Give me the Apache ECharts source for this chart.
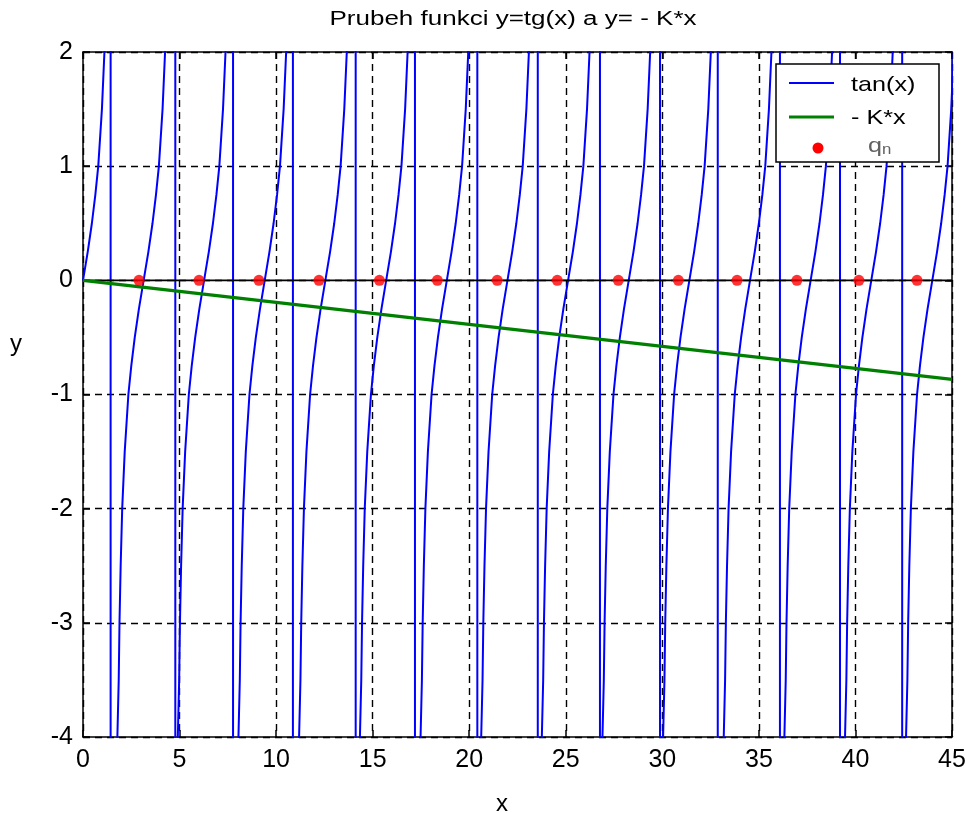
<!DOCTYPE html>
<html>
<head>
<meta charset="utf-8">
<script src="https://cdn.jsdelivr.net/npm/echarts@6/dist/echarts.min.js"></script>
<style>
  html, body { margin: 0; padding: 0; background: #fff; }
  #chart { width: 965px; height: 813px; }
</style>
</head>
<body>
<div id="chart"></div>
<script>
// Axis ranges: [min, max, step]
const xRange = [0, 45, 5];
const yRange = [-4, 2, 1];

// x where each tan(x) branch crosses zero
const tanZeroX = [0, 3.14, 6.27, 9.41, 12.55, 15.70, 18.84, 21.98, 25.12, 28.26, 31.40, 34.54, 37.68, 40.82, 43.98];

// shape of one branch: y levels and x offset from its zero crossing
const branchY  = [-4.6, -4.0, -3.5, -3.0, -2.5, -2.0, -1.5, -1.0, -0.75, -0.5, -0.25, 0, 0.25, 0.5, 0.75, 1.0, 1.5, 2.0, 2.6];
const branchDX = [-1.39, -1.36, -1.29, -1.25, -1.19, -1.11, -0.98, -0.79, -0.64, -0.46, -0.245, 0, 0.245, 0.46, 0.64, 0.79, 0.98, 1.11, 1.20];

// x of the near-vertical jumps between neighbouring branches
const jumpX = [1.43, 4.78, 7.77, 10.87, 14.12, 17.19, 20.42, 23.55, 26.77, 29.88, 32.87, 36.09, 39.20, 42.42];

// straight line y = -K*x, end points
const kLineX = [0, 45];
const kLineY = [0, -0.867];

// roots q_n marked on the x axis
const qX = [2.90, 6.01, 9.11, 12.22, 15.35, 18.35, 21.45, 24.56, 27.72, 30.83, 33.87, 36.97, 40.18, 43.19];

// assemble tan(x) as one polyline; jump segments run outside the grid and get clipped
function tanPoints() {
  const pts = [];
  const top = branchY[branchY.length - 1];
  const bottom = branchY[0];
  tanZeroX.forEach((x0, i) => {
    branchY.forEach((y, j) => {
      if (i === 0 && y < 0) return;
      pts.push([x0 + branchDX[j], y]);
    });
    if (i < jumpX.length) {
      pts.push([jumpX[i], top]);
      pts.push([jumpX[i], bottom]);
    }
  });
  return pts;
}

const FONT = 'Liberation Sans, Arial, sans-serif';
const chart = echarts.init(document.getElementById('chart'));

const dashed = { show: true, lineStyle: { color: '#000', width: 1.4, type: [7, 5] } };
const axisLine = { show: true, onZero: false, lineStyle: { color: '#000', width: 1.5 } };
const tick = { show: true, inside: true, length: 7, lineStyle: { color: '#000', width: 1.5 } };
const LZ = 100; // legend drawn above the plot

chart.setOption({
  animation: false,
  backgroundColor: '#fff',
  grid: { left: 83, right: 13, top: 52, bottom: 76, containLabel: false, outerBoundsMode: 'none' },
  xAxis: [
    {
      type: 'value', min: xRange[0], max: xRange[1], interval: xRange[2],
      axisLine, axisTick: tick, splitLine: dashed,
      axisLabel: { color: '#000', fontSize: 25, fontFamily: FONT, margin: 11 }
    },
    {
      type: 'value', position: 'top', min: xRange[0], max: xRange[1], interval: xRange[2],
      axisLine, axisTick: tick, splitLine: { show: false }, axisLabel: { show: false }
    }
  ],
  yAxis: [
    {
      type: 'value', min: yRange[0], max: yRange[1], interval: yRange[2],
      axisLine, axisTick: tick, splitLine: dashed,
      axisLabel: { color: '#000', fontSize: 25, fontFamily: FONT, margin: 10 }
    },
    {
      type: 'value', position: 'right', min: yRange[0], max: yRange[1], interval: yRange[2],
      axisLine, axisTick: tick, splitLine: { show: false }, axisLabel: { show: false }
    }
  ],
  series: [
    {
      name: 'tan(x)', type: 'line', data: tanPoints(), showSymbol: false, smooth: false,
      clip: true, z: 2,
      lineStyle: { color: '#0000ff', width: 2 }
    },
    {
      name: 'zero', type: 'line', data: [[xRange[0], 0], [xRange[1], 0]], showSymbol: false,
      clip: true, z: 3,
      lineStyle: { color: '#000', width: 1.6 }
    },
    {
      name: '- K*x', type: 'line', data: kLineX.map((x, i) => [x, kLineY[i]]), showSymbol: false,
      clip: true, z: 4,
      lineStyle: { color: '#008000', width: 3.2 }
    },
    {
      name: 'qn', type: 'scatter', data: qX.map(x => [x, 0]), symbol: 'circle', symbolSize: 11,
      z: 5, itemStyle: { color: '#ff0000' }
    }
  ],
  graphic: [
    {
      type: 'text', x: 513, y: 19, scaleX: 1.3,
      style: { text: 'Prubeh funkci y=tg(x) a y= - K*x', fontSize: 20, fontFamily: FONT, fill: '#000', align: 'center', verticalAlign: 'middle' }
    },
    {
      type: 'text', x: 502, y: 804,
      style: { text: 'x', fontSize: 24, fontFamily: FONT, fill: '#000', align: 'center', verticalAlign: 'middle' }
    },
    {
      type: 'text', x: 16, y: 344,
      style: { text: 'y', fontSize: 24, fontFamily: FONT, fill: '#000', align: 'center', verticalAlign: 'middle' }
    },
    { type: 'rect', z: LZ, shape: { x: 776, y: 64, width: 163, height: 98 }, style: { fill: '#fff', stroke: '#000', lineWidth: 1.5 } },
    { type: 'line', z: LZ + 1, shape: { x1: 789, y1: 83, x2: 834, y2: 83 }, style: { stroke: '#0000ff', lineWidth: 2 } },
    { type: 'line', z: LZ + 1, shape: { x1: 789, y1: 117, x2: 834, y2: 117 }, style: { stroke: '#008000', lineWidth: 3.2 } },
    { type: 'circle', z: LZ + 1, shape: { cx: 818, cy: 148, r: 5.5 }, style: { fill: '#ff0000' } },
    {
      type: 'text', z: LZ + 1, x: 851, y: 85, scaleX: 1.2,
      style: { text: 'tan(x)', fontSize: 21, fontFamily: FONT, fill: '#000', align: 'left', verticalAlign: 'middle' }
    },
    {
      type: 'text', z: LZ + 1, x: 851, y: 118, scaleX: 1.2,
      style: { text: '- K*x', fontSize: 21, fontFamily: FONT, fill: '#000', align: 'left', verticalAlign: 'middle' }
    },
    {
      type: 'text', z: LZ + 1, x: 868, y: 146, scaleX: 1.2,
      style: {
        text: '{q|q}{n|n}', fontFamily: FONT, fill: '#606060', align: 'left', verticalAlign: 'middle',
        rich: {
          q: { fontSize: 21, fontFamily: FONT, fill: '#606060' },
          n: { fontSize: 14, fontFamily: FONT, fill: '#606060', padding: [8, 0, 0, 0] }
        }
      }
    }
  ]
});
</script>
</body>
</html>
